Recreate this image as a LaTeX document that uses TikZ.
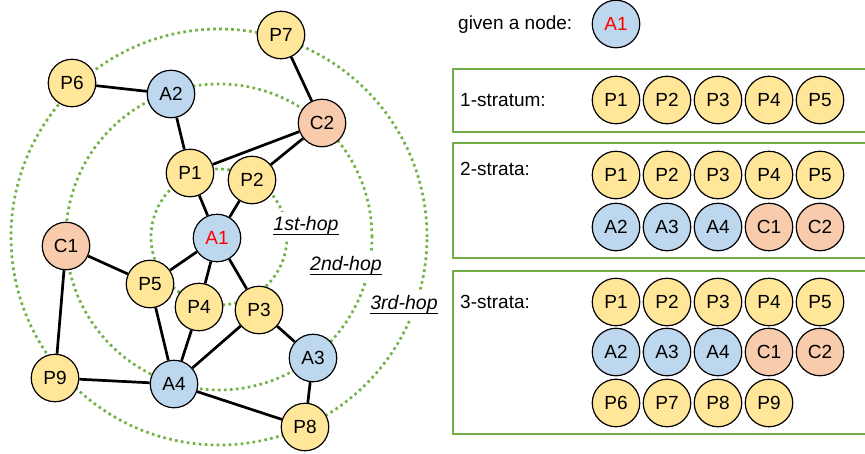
\documentclass[tikz,border=0pt]{standalone}
\usepackage{fontspec}
\setmainfont{Liberation Sans}
\definecolor{yel}{RGB}{255,230,153}
\definecolor{blu}{RGB}{189,215,238}
\definecolor{ora}{RGB}{248,203,173}
\definecolor{grn}{RGB}{112,173,71}
\definecolor{dotg}{RGB}{112,178,68}
\newcommand{\hopul}[1]{\tikz[baseline=(w.base)]{\node[inner sep=0pt] (w) {#1};\draw[line width=1.3pt] ([yshift=-4pt]w.base west) -- ([yshift=-4pt]w.base east);}}
\begin{document}
\begin{tikzpicture}[x=1pt,y=-1pt,
  nd/.style={circle,draw=black,line width=1.2pt,minimum size=47.5pt,inner sep=0pt,font=\fontsize{19}{22}\selectfont},
  pn/.style={nd,fill=yel},
  an/.style={nd,fill=blu},
  cn/.style={nd,fill=ora},
  edge/.style={line width=2.7pt},
  hop/.style={draw=dotg,line width=2.7pt,dash pattern=on 2.6pt off 3.4pt},
  hoplabel/.style={fill=white,inner sep=5pt,font=\fontsize{19.5}{22}\selectfont\itshape},
  txt/.style={anchor=west,font=\fontsize{19}{22}\selectfont,inner sep=0pt},
  box/.style={draw=grn,line width=2.6pt}]
\useasboundingbox (0,0) rectangle (865,453);
\clip (0,0) rectangle (865,453);
% hop circles
\coordinate (ctr) at (219,237);
\draw[hop] (ctr) circle[radius=68pt];
\draw[hop] (ctr) circle[radius=153pt];
\draw[hop] (ctr) circle[radius=208pt];
\node[hoplabel] (h1) at (306,226) {\hopul{1st-hop}};
\node[hoplabel] (h2) at (346,266) {\hopul{2nd-hop}};
\node[hoplabel] (h3) at (404,305) {\hopul{3rd-hop}};
% graph nodes
\node[pn] (P7) at (281,35) {P7};
\node[pn] (P6) at (72,83) {P6};
\node[an] (A2) at (171,94) {A2};
\node[cn] (C2) at (322,123) {C2};
\node[pn] (P1) at (190,173) {P1};
\node[pn] (P2) at (252,180) {P2};
\node[an,text=red] (A1) at (217,238) {A1};
\node[cn] (C1) at (66,246) {C1};
\node[pn] (P5) at (150,284) {P5};
\node[pn] (P4) at (199,307) {P4};
\node[pn] (P3) at (259,310) {P3};
\node[an] (A3) at (313,358) {A3};
\node[pn] (P9) at (55,378) {P9};
\node[an] (A4) at (174,384) {A4};
\node[pn] (P8) at (305,427) {P8};
% edges
\draw[edge] (P6) -- (A2);
\draw[edge] (A2) -- (P1);
\draw[edge] (P7) -- (C2);
\draw[edge] (C2) -- (P1);
\draw[edge] (C2) -- (P2);
\draw[edge] (P1) -- (A1);
\draw[edge] (P2) -- (A1);
\draw[edge] (A1) -- (P5);
\draw[edge] (A1) -- (P4);
\draw[edge] (A1) -- (P3);
\draw[edge] (C1) -- (P5);
\draw[edge] (C1) -- (P9);
\draw[edge] (P5) -- (A4);
\draw[edge] (P4) -- (A4);
\draw[edge] (P3) -- (A4);
\draw[edge] (P3) -- (A3);
\draw[edge] (P9) -- (A4);
\draw[edge] (A4) -- (P8);
\draw[edge] (A3) -- (P8);
% right panel
\node[txt] (given) at (458,25) {given a node:};
\node[an,text=red] (gA1) at (616,24) {A1};
\draw[box] (453,69) rectangle (885,132);
\draw[box] (453,143) rectangle (885,258);
\draw[box] (453,271) rectangle (885,434);
\node[txt] (l1) at (460,100) {1-stratum:};
\node[txt] (l2) at (460,169) {2-strata:};
\node[txt] (l3) at (460,302) {3-strata:};
\foreach \t [count=\i] in {P1,P2,P3,P4,P5} {
  \node[pn] (sa\t) at ({565+51*\i},100) {\t};
  \node[pn] (sb\t) at ({565+51*\i},175) {\t};
  \node[pn] (sc\t) at ({565+51*\i},302) {\t};
}
\foreach \t [count=\i] in {A2,A3,A4} {
  \node[an] (sb\t) at ({565+51*\i},227) {\t};
  \node[an] (sc\t) at ({565+51*\i},352) {\t};
}
\foreach \t [count=\i] in {C1,C2} {
  \node[cn] (sb\t) at ({718+51*\i},227) {\t};
  \node[cn] (sc\t) at ({718+51*\i},352) {\t};
}
\foreach \t [count=\i] in {P6,P7,P8,P9} {
  \node[pn] (sc\t) at ({565+51*\i},403) {\t};
}
\end{tikzpicture}
\end{document}
